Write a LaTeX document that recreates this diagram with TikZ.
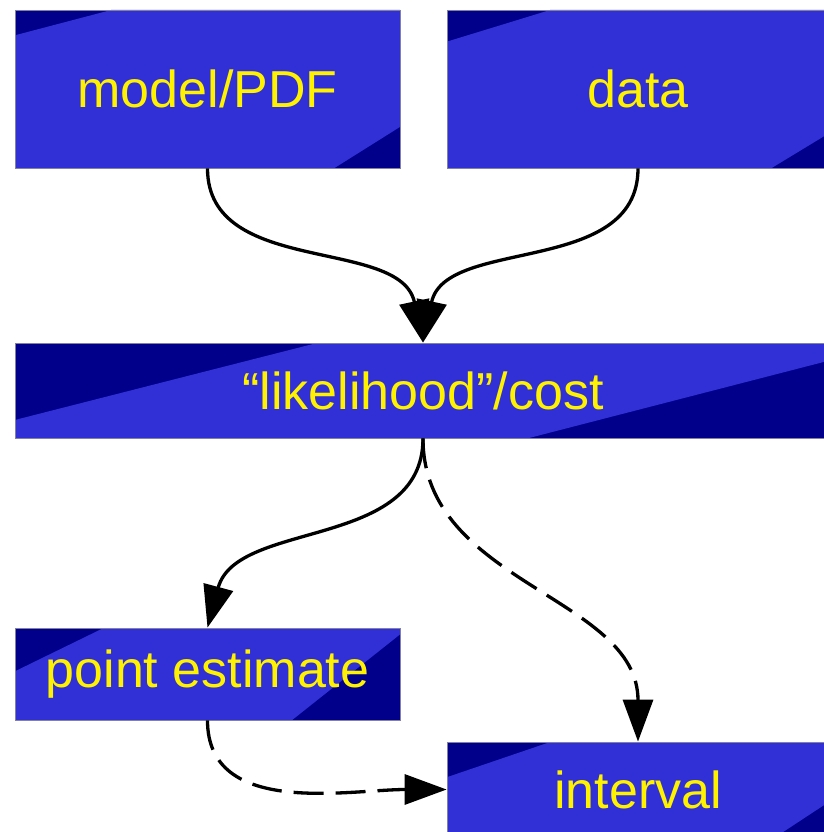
\documentclass[tikz,border=0pt]{standalone}
\usepackage{fontspec}
\setmainfont{Liberation Sans}
\usetikzlibrary{arrows.meta,calc}

\definecolor{boxnavy}{RGB}{0,0,138}
\definecolor{boxband}{RGB}{48,48,214}
\definecolor{boxedge}{RGB}{130,130,160}

\tikzset{
  stagebox/.style={rectangle, draw=boxedge, line width=0.8pt, inner sep=0pt,
    text=yellow, font=\fontsize{52}{60}\selectfont},
  % navy box with a lighter band: #1,#3 along top/bottom edge, #2,#4 down left/right edge
  band/.style n args={4}{path picture={
    \coordinate (nw) at (path picture bounding box.north west);
    \coordinate (ne) at (path picture bounding box.north east);
    \coordinate (sw) at (path picture bounding box.south west);
    \coordinate (se) at (path picture bounding box.south east);
    \fill[boxnavy] (sw) rectangle (ne);
    \fill[boxband] ($(nw)!#1!(ne)$) -- (ne) -- ($(ne)!#4!(se)$)
      -- ($(sw)!#3!(se)$) -- (sw) -- ($(nw)!#2!(sw)$) -- cycle;
  }},
  flow/.style={line width=3.3pt, -{Triangle[length=42pt,width=30pt]}},
  flowdash/.style={flow, dash pattern=on 30pt off 12pt}
}

\begin{document}
\begin{tikzpicture}[x=1pt,y=1pt]
    \useasboundingbox (0,0) rectangle (823,-832);
    \node[stagebox, band={0.25}{0.16}{0.83}{0.74}, minimum width=385pt, minimum height=158pt] (model) at (207.5,-89) {model/PDF};
    \node[stagebox, band={0.27}{0.20}{0.85}{0.78}, minimum width=382pt, minimum height=158pt] (data) at (638,-89) {data};
    \node[stagebox, band={0.37}{0.81}{0.63}{0.18}, minimum width=816pt, minimum height=95pt] (lik) at (423,-390.5) {``likelihood''/cost};
    \node[stagebox, band={0.23}{0.47}{0.72}{0.07}, minimum width=385pt, minimum height=92pt] (point) at (207.5,-674) {point estimate};
    \node[stagebox, band={0.27}{0.37}{0.86}{0.63}, minimum width=382pt, minimum height=95pt] (interval) at (638,-789.5) {interval};

    \draw[flow] (model.south) to[out=-90,in=102] (lik.north);
    \draw[flow] (data.south) to[out=-90,in=78] (lik.north);
    \draw[flow] (lik.south) to[out=-90,in=75] (point.north);
    \draw[flowdash] (lik.south) to[out=-90,in=90] (interval.north);
    \draw[flowdash] (point.south) to[out=-90,in=180] (interval.west);
\end{tikzpicture}
\end{document}
